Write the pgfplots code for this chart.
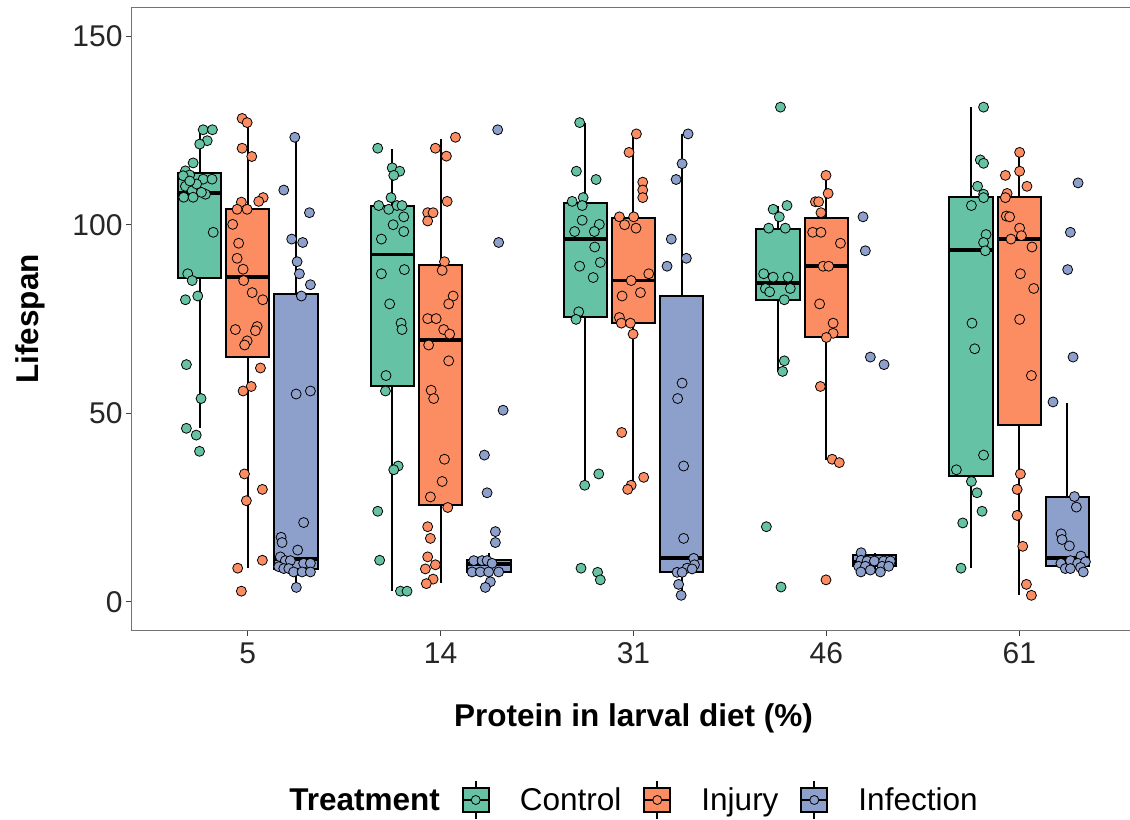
\documentclass[border=0pt]{standalone}
\usepackage{pgfplots}
\pgfplotsset{compat=1.18}
\usepackage{pgfplotstable}
\usepgfplotslibrary{statistics}
\usepackage{fontspec}
\setmainfont{Liberation Sans}
\definecolor{cC}{RGB}{102,194,165}
\definecolor{cI}{RGB}{252,141,98}
\definecolor{cF}{RGB}{141,160,203}

\pgfplotstableread{
x y
0.769 125.2
0.817 125.2
0.790 122.3
0.751 121.4
0.717 116.4
0.677 114.3
0.699 113.2
0.665 113.0
0.769 112.1
0.815 112.1
0.677 110.2
0.712 109.0
0.781 108.1
0.668 107.3
0.717 107.3
0.735 110.8
0.760 108.6
0.700 111.6
0.821 98.0
0.689 87.0
0.712 85.2
0.677 80.1
0.741 81.1
0.682 62.9
0.758 53.9
0.682 46.0
0.733 44.2
0.750 39.9
1.674 120.3
1.749 115.1
1.788 114.2
1.757 113.1
1.743 107.2
1.679 105.1
1.731 104.1
1.774 105.1
1.800 105.1
1.809 102.1
1.754 100.0
1.809 98.2
1.693 96.2
1.693 87.0
1.812 88.1
1.736 79.0
1.795 73.9
1.800 72.2
1.717 60.0
1.714 55.9
1.780 36.0
1.757 35.0
1.674 24.0
1.684 11.0
1.792 2.8
1.826 2.8
2.721 127.1
2.704 114.2
2.806 112.0
2.739 107.2
2.682 106.2
2.734 105.1
2.734 101.2
2.823 100.1
2.695 98.2
2.797 98.2
2.799 94.1
2.828 90.0
2.721 89.0
2.791 86.0
2.716 76.9
2.702 74.9
2.820 33.9
2.747 30.9
2.728 8.9
2.814 7.8
2.828 5.8
3.762 131.2
3.724 104.1
3.796 105.1
3.756 102.1
3.701 99.1
3.787 99.1
3.675 87.0
3.724 86.1
3.801 86.1
3.684 83.1
3.706 82.2
3.813 83.1
3.782 80.1
3.782 63.9
3.773 61.1
3.689 19.9
3.765 3.9
4.815 131.2
4.798 117.2
4.815 116.3
4.784 110.2
4.815 108.1
4.815 107.2
4.752 105.1
4.828 97.4
4.815 95.3
4.824 93.1
4.755 73.9
4.769 67.1
4.815 38.9
4.674 35.0
4.752 31.9
4.781 28.9
4.807 24.0
4.707 20.9
4.698 8.9
}\ctrl

\pgfplotstableread{
x y
0.971 128.2
0.997 127.1
0.971 120.3
1.021 118.1
1.080 107.2
1.057 106.2
0.967 106.0
0.945 104.1
0.997 104.1
0.922 100.1
0.953 95.1
0.945 91.1
0.976 88.2
0.979 85.2
1.023 82.0
1.078 80.1
0.936 72.2
1.049 73.0
1.040 71.9
0.997 69.2
0.984 68.1
1.066 62.0
1.018 57.1
0.976 55.9
0.983 33.9
1.076 29.8
0.993 26.8
1.076 11.0
0.948 8.9
0.967 2.8
2.077 123.2
1.973 120.3
2.030 118.2
2.034 106.2
1.933 103.2
1.961 103.2
1.933 101.0
2.020 90.2
2.008 87.9
2.065 81.1
2.042 79.0
1.933 75.1
1.977 75.1
2.016 72.2
2.047 71.0
1.938 68.1
2.042 63.9
1.951 56.1
1.964 53.9
2.020 37.8
2.008 31.9
1.947 27.8
2.037 25.0
1.933 19.9
1.947 16.8
1.933 11.9
1.973 9.8
1.921 8.7
1.961 6.0
1.926 4.8
3.015 124.1
2.977 119.2
3.048 111.3
3.048 109.2
3.048 107.2
2.927 102.1
3.001 102.1
2.954 100.0
3.013 99.1
3.079 87.0
2.988 85.2
3.036 82.0
2.941 81.1
2.927 75.4
2.937 73.9
2.984 73.9
2.998 71.0
2.939 44.9
3.053 33.0
2.988 30.9
2.970 29.8
3.998 113.1
4.009 108.3
3.943 106.1
3.960 106.1
3.972 103.2
3.929 98.0
3.972 98.0
4.073 95.1
3.983 89.0
4.012 89.0
3.965 79.0
4.035 73.9
4.035 71.2
4.000 70.1
3.969 57.1
4.030 37.8
4.067 36.9
3.998 5.8
5.002 119.2
5.002 114.2
4.928 113.1
5.040 110.2
4.937 108.3
4.928 107.2
4.933 102.3
4.950 102.1
5.002 99.1
5.011 97.1
4.957 96.2
5.066 94.1
5.006 87.0
5.075 83.1
5.002 74.9
5.063 60.0
5.006 33.9
4.989 29.8
4.989 22.9
5.018 14.7
5.037 4.6
5.063 1.7
}\inj

\pgfplotstableread{
x y
1.244 123.2
1.187 109.2
1.320 103.2
1.228 96.2
1.285 95.3
1.256 90.2
1.268 87.0
1.325 84.1
1.278 81.1
1.251 55.1
1.325 55.9
1.290 21.0
1.173 17.1
1.178 15.7
1.259 13.7
1.169 11.9
1.195 10.9
1.221 10.9
1.290 10.2
1.325 10.2
1.161 9.3
1.187 8.8
1.213 8.8
1.238 7.9
1.282 7.9
1.325 7.9
1.252 3.8
2.296 125.2
2.301 95.3
2.324 50.8
2.227 38.9
2.241 28.9
2.284 18.6
2.284 15.7
2.172 10.9
2.215 10.9
2.241 10.9
2.267 10.2
2.163 7.9
2.206 7.9
2.249 7.9
2.301 7.9
2.258 5.3
2.232 3.8
3.283 124.1
3.252 116.2
3.221 112.0
3.196 96.2
3.274 91.1
3.174 89.0
3.252 58.0
3.229 53.9
3.260 36.0
3.260 16.8
3.312 11.5
3.316 9.8
3.278 8.9
3.304 8.7
3.226 7.8
3.252 7.8
3.234 4.6
3.247 1.7
4.190 102.1
4.202 93.1
4.228 64.9
4.299 62.9
4.180 13.0
4.180 11.0
4.211 10.8
4.249 10.8
4.297 10.8
4.332 10.8
4.167 9.4
4.202 9.4
4.289 9.4
4.323 9.4
4.179 7.9
4.228 8.4
4.280 7.9
5.305 111.1
5.265 98.0
5.251 88.1
5.279 64.9
5.175 53.0
5.286 27.9
5.296 25.1
5.217 18.0
5.222 16.5
5.260 14.8
5.320 12.1
5.216 10.2
5.265 10.9
5.303 10.2
5.343 10.6
5.239 8.8
5.265 8.8
5.318 9.1
5.332 7.9
}\infe

\pgfplotsset{
  bx/.style={forget plot, draw=black, line width=2bp, solid, mark=none,
    boxplot/box extend=0.225, boxplot/whisker extend=0,
    boxplot/every box/.style={line width=2bp},
    boxplot/every whisker/.style={line width=2bp},
    boxplot/every median/.style={line width=3.8bp}},
  pts/.style={forget plot, only marks, mark=*, mark size=5bp,
    mark options={draw=black, line width=0.8bp, fill=#1}},
  keyimg/.style={legend image code/.code={
    \path (0bp,0bp) (55bp,0bp);
    \draw[black, line width=1.6bp] (13bp,-19bp) -- (13bp,19bp);
    \draw[black, fill=#1, line width=1.6bp] (0bp,-12bp) rectangle (26bp,12bp);
    \draw[black, line width=1.6bp] (0bp,0bp) -- (26bp,0bp);
    \draw[black, fill=#1, line width=0.8bp] (13bp,0bp) circle (4.5bp);}},
}

\begin{document}
\begin{tikzpicture}
\begin{axis}[
  name=ax,
  scale only axis, width=1003bp, height=622bp,
  xmin=0.4, xmax=5.6, ymin=-7.5, ymax=157.5,
  xtick={1,2,3,4,5}, xticklabels={5,14,31,46,61},
  ytick={0,50,100,150},
  tick pos=left, tick align=outside, major tick length=6bp,
  axis line style={draw=black!55, line width=1bp},
  tick style={draw=black!75, line width=1bp},
  ticklabel style={font=\fontsize{30bp}{36bp}\selectfont, text=black!85},
  xticklabel style={yshift=-3bp},
  /pgf/number format/assume math mode=true,
  xlabel={Protein in larval diet (\%)}, ylabel={Lifespan},
  every axis x label/.style={at={(axis description cs:0.5,-0.1415)}, anchor=center,
    font=\fontsize{31.5bp}{38bp}\selectfont\bfseries},
  every axis y label/.style={at={(axis description cs:-0.1017,0.5)}, rotate=90, anchor=center,
    font=\fontsize{31.5bp}{38bp}\selectfont\bfseries},
  boxplot/draw direction=y,
  legend columns=-1,
  legend cell align=left,
  legend style={at={(axis description cs:0.5,-0.2733)}, anchor=center, draw=none, fill=none,
    font=\fontsize{31.5bp}{38bp}\selectfont,
    /tikz/every even column/.append style={column sep=20bp}},
]
% boxes
\addplot[bx, fill=cC, boxplot prepared={draw position=0.75, lower whisker=46, lower quartile=85.9, median=108.5, upper quartile=113.8, upper whisker=125.2}] coordinates {};
\addplot[bx, fill=cI, boxplot prepared={draw position=1.0, lower whisker=8.9, lower quartile=65.0, median=86.1, upper quartile=104.1, upper whisker=127.8}] coordinates {};
\addplot[bx, fill=cF, boxplot prepared={draw position=1.25, lower whisker=4, lower quartile=8.7, median=11.3, upper quartile=81.7, upper whisker=123.2}] coordinates {};
\addplot[bx, fill=cC, boxplot prepared={draw position=1.75, lower whisker=2.8, lower quartile=57.1, median=92.1, upper quartile=104.9, upper whisker=120.0}] coordinates {};
\addplot[bx, fill=cI, boxplot prepared={draw position=2.0, lower whisker=4.9, lower quartile=25.7, median=69.4, upper quartile=89.3, upper whisker=122.8}] coordinates {};
\addplot[bx, fill=cF, boxplot prepared={draw position=2.25, lower whisker=4, lower quartile=8, median=10, upper quartile=11, upper whisker=13}] coordinates {};
\addplot[bx, fill=cC, boxplot prepared={draw position=2.75, lower whisker=30.9, lower quartile=75.4, median=96.2, upper quartile=105.8, upper whisker=127.1}] coordinates {};
\addplot[bx, fill=cI, boxplot prepared={draw position=3.0, lower whisker=30.7, lower quartile=73.9, median=85.2, upper quartile=101.9, upper whisker=124.1}] coordinates {};
\addplot[bx, fill=cF, boxplot prepared={draw position=3.25, lower whisker=1.7, lower quartile=7.8, median=11.5, upper quartile=81.1, upper whisker=124.1}] coordinates {};
\addplot[bx, fill=cC, boxplot prepared={draw position=3.75, lower whisker=60.9, lower quartile=80.0, median=84.5, upper quartile=98.9, upper whisker=105}] coordinates {};
\addplot[bx, fill=cI, boxplot prepared={draw position=4.0, lower whisker=37.6, lower quartile=70.3, median=89.0, upper quartile=101.9, upper whisker=113.1}] coordinates {};
\addplot[bx, fill=cF, boxplot prepared={draw position=4.25, lower whisker=8, lower quartile=9.5, median=10.5, upper quartile=12.5, upper whisker=13}] coordinates {};
\addplot[bx, fill=cC, boxplot prepared={draw position=4.75, lower whisker=8.9, lower quartile=33.4, median=93.2, upper quartile=107.3, upper whisker=131.2}] coordinates {};
\addplot[bx, fill=cI, boxplot prepared={draw position=5.0, lower whisker=1.8, lower quartile=47.0, median=96.2, upper quartile=107.3, upper whisker=119.2}] coordinates {};
\addplot[bx, fill=cF, boxplot prepared={draw position=5.25, lower whisker=8, lower quartile=9.6, median=11.7, upper quartile=27.7, upper whisker=52.7}] coordinates {};
% points
\addplot[pts=cC] table[x=x,y=y] {\ctrl};
\addplot[pts=cI] table[x=x,y=y] {\inj};
\addplot[pts=cF] table[x=x,y=y] {\infe};
% legend
\addlegendimage{empty legend}
\addlegendentry{\bfseries Treatment}
\addlegendimage{keyimg=cC}
\addlegendentry{Control}
\addlegendimage{keyimg=cI}
\addlegendentry{Injury}
\addlegendimage{keyimg=cF}
\addlegendentry{Infection}
\end{axis}
\pgfresetboundingbox
\path[use as bounding box] ([xshift=-132bp,yshift=-190bp]ax.south west) rectangle ([xshift=998bp,yshift=630bp]ax.south west);
\end{tikzpicture}
\end{document}
